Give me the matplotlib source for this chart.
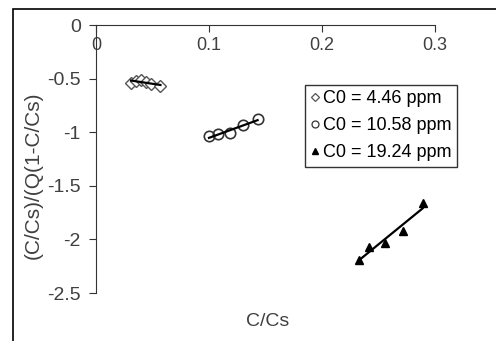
import numpy as np
import matplotlib
matplotlib.use("Agg")
import matplotlib.pyplot as plt
from matplotlib.patches import Rectangle
from matplotlib.lines import Line2D

plt.rcParams['font.family'] = ['Liberation Sans', 'DejaVu Sans']

# data
x1 = [0.031, 0.035, 0.040, 0.044, 0.049, 0.057]
y1 = [-0.54, -0.52, -0.51, -0.53, -0.55, -0.57]
x2 = [0.100, 0.108, 0.119, 0.130, 0.143]
y2 = [-1.04, -1.02, -1.01, -0.93, -0.88]
x3 = [0.233, 0.242, 0.256, 0.272, 0.289]
y3 = [-2.19, -2.07, -2.03, -1.92, -1.66]
labels = ['C0 = 4.46 ppm', 'C0 = 10.58 ppm', 'C0 = 19.24 ppm']
xticks = [0, 0.1, 0.2, 0.3]
yticks = [0, -0.5, -1, -1.5, -2, -2.5]

fig = plt.figure(figsize=(4.96, 3.41), dpi=100)
# chart area border
fig.patches.append(Rectangle((13 / 496, -0.05), 1.0, 1.05 - 9 / 341,
                             transform=fig.transFigure, fill=False,
                             edgecolor='black', linewidth=1.2))
ax = fig.add_axes([96 / 496, 1 - 293 / 341, 339 / 496, 268 / 341])

tc = '#404040'
ax.plot(x1, y1, 'D', ms=6, mfc='white', mec='#555555', mew=1)
ax.plot(x2, y2, 'o', ms=7.5, mfc='none', mec='#333333', mew=1.2)
ax.plot(x3, y3, '^', ms=6, mfc='black', mec='black')

# linear trendlines
for xs, ys in [(x1, y1), (x2, y2), (x3, y3)]:
    p = np.polyfit(xs, ys, 1)
    xx = np.array([min(xs), max(xs)])
    ax.plot(xx, np.polyval(p, xx), color='black', lw=1.6)

ax.set_xlim(0, 0.3)
ax.set_ylim(-2.5, 0)
ax.set_xticks(xticks)
ax.set_xticklabels(['0', '0.1', '0.2', '0.3'])
ax.set_yticks(yticks)
ax.set_yticklabels(['0', '-0.5', '-1', '-1.5', '-2', '-2.5'])
ax.spines['right'].set_visible(False)
ax.spines['top'].set_visible(False)
ax.spines['bottom'].set_position(('data', 0))
for s in ['left', 'bottom']:
    ax.spines[s].set_color('#333333')
ax.tick_params(direction='out', length=5, color='#333333', labelcolor=tc)
ax.tick_params(axis='x', pad=4, labelsize=13)
ax.tick_params(axis='y', pad=6, labelsize=14)

fig.text(268 / 496, 1 - 322 / 341, 'C/Cs', ha='center', va='center', fontsize=14, color=tc)
fig.text(33 / 496, 1 - 175 / 341, '(C/Cs)/(Q(1-C/Cs)', ha='center', va='center',
         rotation=90, fontsize=15, color=tc)

handles = [
    Line2D([], [], ls='none', marker='D', ms=4, mfc='white', mec='#555555', mew=0.9),
    Line2D([], [], ls='none', marker='o', ms=5, mfc='white', mec='#333333', mew=0.9),
    Line2D([], [], ls='none', marker='^', ms=5, mfc='black', mec='black'),
]
leg = ax.legend(handles, labels, loc='upper left',
                bbox_to_anchor=((305 - 96) / 339, (293 - 85) / 268),
                frameon=True, fancybox=False, edgecolor='black', fontsize=13,
                handlelength=0.5, handletextpad=0.2, borderpad=0.3,
                labelspacing=0.55, borderaxespad=0)
leg.get_frame().set_linewidth(1.0)
for t in leg.get_texts():
    t.set_color('black')

fig.savefig('out.png', dpi=100)
